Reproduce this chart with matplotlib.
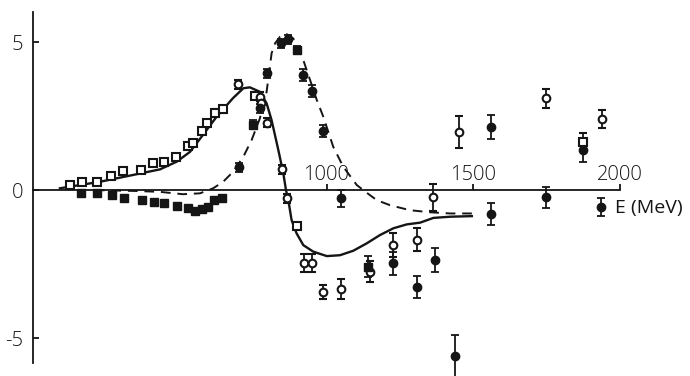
import matplotlib.pyplot as plt
import numpy as np

INK = "#151515"

# open points (solid theory curve)
open_sq_e = [128, 166, 217, 266, 306, 367, 410, 447, 487, 527, 545, 575, 592, 620, 646, 756, 898, 1875]
open_sq_y = [0.17, 0.26, 0.28, 0.48, 0.64, 0.68, 0.92, 0.96, 1.13, 1.49, 1.59, 2.0, 2.25, 2.62, 2.73, 3.19, -1.22, 1.63]
open_sq_err = [0.05, 0.05, 0.05, 0.06, 0.06, 0.06, 0.07, 0.07, 0.07, 0.08, 0.08, 0.1, 0.1, 0.12, 0.12, 0.12, 0.1, 0.3]

open_ci_e = [700, 773, 776, 798, 847, 864, 924, 952, 989, 1048, 1148, 1228, 1307, 1364, 1451, 1747, 1938]
open_ci_y = [3.58, 3.15, 2.93, 2.27, 0.70, -0.28, -2.46, -2.46, -3.44, -3.35, -2.76, -1.86, -1.67, -0.25, 1.97, 3.10, 2.39]
open_ci_err = [0.15, 0.15, 0.15, 0.15, 0.15, 0.15, 0.3, 0.3, 0.25, 0.33, 0.35, 0.4, 0.38, 0.45, 0.54, 0.32, 0.3]

# filled points (dashed theory curve)
fill_sq_e = [163, 217, 268, 310, 370, 412, 447, 492, 527, 552, 575, 597, 617, 643, 749, 898, 1142]
fill_sq_y = [-0.11, -0.11, -0.17, -0.28, -0.34, -0.40, -0.45, -0.53, -0.62, -0.70, -0.65, -0.56, -0.34, -0.26, 2.20, 4.73, -2.59]
fill_sq_err = [0.04, 0.04, 0.04, 0.05, 0.05, 0.05, 0.05, 0.05, 0.05, 0.05, 0.05, 0.05, 0.05, 0.05, 0.15, 0.12, 0.35]

fill_ci_e = [703, 773, 798, 844, 870, 921, 950, 989, 1048, 1228, 1307, 1370, 1438, 1559, 1559, 1747, 1875, 1934]
fill_ci_y = [0.77, 2.76, 3.94, 4.96, 5.09, 3.89, 3.35, 1.99, -0.28, -2.48, -3.27, -2.36, -5.61, 2.13, -0.81, -0.25, 1.35, -0.56]
fill_ci_err = [0.15, 0.15, 0.15, 0.15, 0.15, 0.2, 0.2, 0.2, 0.28, 0.38, 0.37, 0.4, 0.7, 0.42, 0.36, 0.35, 0.4, 0.3]

# theory curves
solid_e = [92, 228, 341, 433, 490, 535, 579, 626, 681, 717, 739, 773, 796, 813, 836, 853, 862, 870, 881,
           898, 921, 955, 1001, 1046, 1091, 1137, 1182, 1228, 1273, 1319, 1364, 1421, 1495]
solid_y = [0.06, 0.28, 0.51, 0.70, 0.96, 1.29, 1.86, 2.48, 3.10, 3.44, 3.47, 3.32, 2.93, 2.36, 1.35, 0.56, 0.0,
           -0.34, -1.01, -1.46, -1.86, -2.08, -2.23, -2.20, -2.05, -1.80, -1.52, -1.29, -1.16, -1.10, -0.94, -0.90, -0.88]

dash_e = [211, 348, 433, 511, 569, 614, 648, 682, 717, 745, 773, 796, 813, 825, 842, 864, 887, 904, 921,
          944, 967, 989, 1023, 1057, 1103, 1137, 1171, 1216, 1284, 1353, 1421, 1495]
dash_y = [0.0, -0.03, -0.06, -0.14, -0.11, 0.06, 0.28, 0.62, 1.13, 1.69, 2.42, 3.32, 4.62, 4.96, 5.18, 5.27,
          5.12, 4.79, 4.39, 3.72, 3.04, 2.48, 1.46, 0.79, 0.17, -0.09, -0.34, -0.51, -0.68, -0.75, -0.79, -0.79]

x_ticks = [1000, 1500, 2000]
y_ticks = [5, 0, -5]

fig = plt.figure(figsize=(6.9, 3.76), dpi=100)
ax = fig.add_axes([0, 0, 1, 1])
ax.set_xlim(-112, 2238)
ax.set_ylim(-6.28, 6.42)

ax.plot(solid_e, solid_y, color=INK, lw=1.7, zorder=2)
ax.plot(dash_e, dash_y, color=INK, lw=1.4, ls=(0, (5, 3.5)), zorder=2)

eb = dict(ls="none", ecolor=INK, elinewidth=1.3, capsize=2.8, capthick=1.3, zorder=3)
ax.errorbar(open_sq_e, open_sq_y, yerr=open_sq_err, marker="s", ms=5.5, mfc="white", mec=INK, mew=1.5, **eb)
ax.errorbar(open_ci_e, open_ci_y, yerr=open_ci_err, marker="o", ms=5.5, mfc="white", mec=INK, mew=1.5, **eb)
ax.errorbar(fill_sq_e, fill_sq_y, yerr=fill_sq_err, marker="s", ms=5.5, mfc=INK, mec=INK, **eb)
ax.errorbar(fill_ci_e, fill_ci_y, yerr=fill_ci_err, marker="o", ms=6, mfc=INK, mec=INK, **eb)

for s in ["top", "right"]:
    ax.spines[s].set_visible(False)
ax.spines["bottom"].set_position(("data", 0))
ax.spines["left"].set_position(("data", 0))
ax.spines["bottom"].set_bounds(0, 2000)
ax.spines["left"].set_bounds(-5.85, 6.0)
for s in ["bottom", "left"]:
    ax.spines[s].set_linewidth(1.3)
    ax.spines[s].set_color(INK)

ax.set_xticks(x_ticks)
ax.set_xticklabels([str(t) for t in x_ticks])
ax.set_yticks(y_ticks)
ax.set_yticklabels([str(t) for t in y_ticks])
ax.tick_params(axis="x", direction="in", length=4, width=1.3, colors=INK, pad=-18, labelsize=14.5)
ax.tick_params(axis="y", direction="in", length=4, width=1.3, colors=INK, pad=7, labelsize=14.5)
for lab in ax.get_xticklabels() + ax.get_yticklabels():
    lab.set_family("Open Sans")
    lab.set_fontweight("light")

ax.text(1983, -0.62, "E (MeV)", fontsize=14, family="Open Sans", color=INK, va="center", ha="left")

fig.savefig("out.png", dpi=100)
